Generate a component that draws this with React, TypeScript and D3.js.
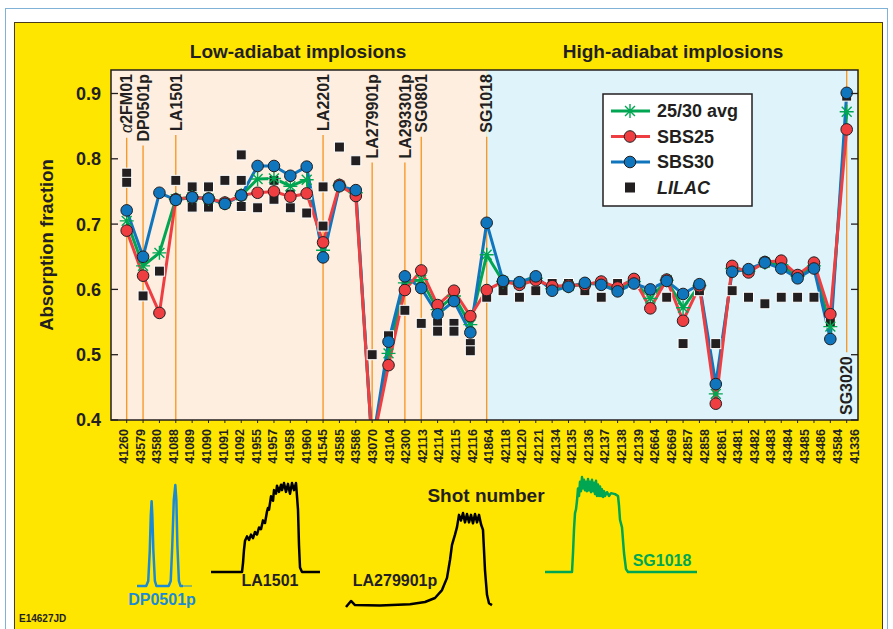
import * as d3 from "d3";
import React from "react";

// shots along the x axis
const shots = [
	"41260", "43579", "43580", "41088", "41089", "41090", "41091", "41092", "41955", "41957",
	"41958", "41960", "41545", "43585", "43586", "43070", "43104", "42300", "42113", "42114",
	"42115", "42116", "41864", "42118", "42120", "42121", "42134", "42135", "42136", "42137",
	"42138", "42139", "42664", "42669", "42857", "42858", "42861", "43481", "43482", "43483",
	"43484", "43485", "43486", "43584", "41336"
];

const sbs25 = [
	0.690, 0.621, 0.564, 0.738, 0.741, 0.739, 0.733, 0.744, 0.748, 0.750,
	0.742, 0.747, 0.672, 0.760, 0.743, 0.36, 0.484, 0.599, 0.629, 0.576,
	0.598, 0.559, 0.599, 0.612, 0.607, 0.614, 0.605, 0.606, 0.607, 0.612,
	0.603, 0.616, 0.571, 0.615, 0.552, 0.605, 0.425, 0.636, 0.626, 0.642,
	0.644, 0.622, 0.641, 0.562, 0.845
];

const sbs30 = [
	0.721, 0.650, 0.748, 0.737, 0.741, 0.739, 0.731, 0.744, 0.789, 0.789,
	0.774, 0.788, 0.649, 0.758, 0.752, 0.36, 0.520, 0.620, 0.602, 0.562,
	0.582, 0.534, 0.702, 0.613, 0.611, 0.620, 0.598, 0.604, 0.610, 0.607,
	0.597, 0.609, 0.600, 0.613, 0.593, 0.608, 0.455, 0.627, 0.631, 0.641,
	0.632, 0.617, 0.632, 0.524, 0.901
];

const avg2530 = [
	0.705, 0.636, 0.656, 0.738, 0.741, 0.739, 0.732, 0.744, 0.769, 0.770,
	0.758, 0.768, 0.660, 0.759, 0.748, 0.36, 0.502, 0.610, 0.615, 0.569,
	0.590, 0.546, 0.653, 0.612, 0.609, 0.617, 0.601, 0.605, 0.608, 0.610,
	0.600, 0.612, 0.586, 0.614, 0.572, 0.606, 0.440, 0.632, 0.628, 0.641,
	0.638, 0.620, 0.636, 0.543, 0.872
];

// LILAC predictions, some shots have more than one
const lilac = [
	[0.778, 0.764], [0.590], [0.628], [0.767], [0.757, 0.726], [0.757, 0.726], [0.767], [0.806, 0.767, 0.727], [0.748, 0.725], [0.767, 0.738],
	[0.746, 0.725], [0.746, 0.717], [0.757, 0.697], [0.818], [0.797], [0.500], [0.529], [0.568], [0.548], [0.548, 0.536],
	[0.548, 0.536], [0.517, 0.506], [0.588], [0.598], [0.588], [0.598], [0.609], [0.609], [0.598], [0.588],
	[0.609], [0.609], [0.598], [0.588], [0.517], [0.598], [0.517], [0.598], [0.588], [0.578],
	[0.588], [0.588], [0.588], [0.549], [0.896]
];

const yTicks = [0.4, 0.5, 0.6, 0.7, 0.8, 0.9];

const markers = [
	{ shot: "41260", label: "α2FM01" },
	{ shot: "43579", label: "DP0501p" },
	{ shot: "41088", label: "LA1501" },
	{ shot: "41545", label: "LA2201" },
	{ shot: "43070", label: "LA279901p" },
	{ shot: "42300", label: "LA293301p" },
	{ shot: "42113", label: "SG0801" },
	{ shot: "41864", label: "SG1018" }
];
const bottomMarker = { shot: "41336", label: "SG3020" };

// laser pulse shapes (time in ns-ish units, normalized power)
const pulseDP = [
	[0, 0], [9, 0], [11, 0.05], [12.5, 0.35], [13.5, 0.7], [14.3, 0.84], [15, 0.7], [16, 0.35], [17.5, 0.05], [19, 0],
	[31, 0], [33, 0.05], [34.5, 0.4], [36, 0.85], [37.5, 1], [38.5, 0.85], [39.5, 0.4], [41, 0.05], [42.5, 0], [45, 0]
];
const pulseLA1501 = [
	[0, 0], [31, 0], [32, 0.1], [33, 0.25], [34, 0.35], [36, 0.4], [38, 0.36], [40, 0.42], [42, 0.38], [44, 0.45],
	[46, 0.42], [48, 0.5], [50, 0.48], [52, 0.58], [54, 0.55], [56, 0.68], [57, 0.72], [58, 0.7], [60, 0.85], [62, 0.8],
	[63, 0.92], [65, 0.88], [66, 0.97], [68, 0.9], [70, 0.98], [71, 0.92], [73, 1.0], [75, 0.9], [77, 0.99], [79, 0.88],
	[81, 1.0], [83, 0.92], [85, 1.0], [86, 0.85], [87, 0.7], [88, 0.3], [89, 0.05], [91, 0], [109, 0]
];
const pulseLA2799 = [
	[0, 0], [5, 0.064], [9, 0.02], [34, 0.016], [64, 0.03], [79, 0.053], [89, 0.096], [96, 0.18], [101, 0.31], [104, 0.5],
	[106, 0.66], [109, 0.77], [111, 0.85], [113, 0.98], [115, 0.92], [117, 1.0], [119, 0.9], [121, 0.99], [123, 0.9], [125, 0.98],
	[127, 0.89], [129, 0.99], [131, 0.9], [133, 0.98], [135, 0.88], [137, 0.82], [139, 0.39], [141, 0.13], [143, 0.04], [146, 0.02]
];
const pulseSG1018 = [
	[0, 0], [27, 0], [28, 0.2], [29, 0.45], [30, 0.62], [31, 0.66], [32, 0.75], [33, 0.88], [34, 0.8], [35, 0.95],
	[36, 0.85], [37, 1.0], [38, 0.88], [39, 0.97], [40, 0.86], [41, 0.95], [42, 0.85], [43, 0.98], [44, 0.86], [45, 0.95],
	[46, 0.84], [47, 0.97], [48, 0.85], [49, 0.94], [50, 0.82], [51, 0.96], [52, 0.8], [53, 0.92], [54, 0.8], [55, 0.9],
	[56, 0.8], [57, 0.87], [58, 0.79], [59, 0.85], [60, 0.8], [62, 0.84], [64, 0.8], [66, 0.83], [70, 0.82], [73, 0.8],
	[74, 0.7], [75, 0.55], [77, 0.47], [79, 0.2], [81, 0.03], [83, 0], [152, 0]
];

const font = "'Liberation Sans', Arial, Helvetica, sans-serif";
const red = "#ef3e42";
const blue = "#0f75bc";
const green = "#00a651";
const orange = "#f7941d";
const ink = "#231f20";

const plot = { left: 111, right: 858, top: 70, bottom: 420 };

let measureCtx: CanvasRenderingContext2D | null = null;
const textWidth = (s: string, f: string) => {
	if (!measureCtx) measureCtx = document.createElement("canvas").getContext("2d");
	if (!measureCtx) return s.length * 9;
	measureCtx.font = f;
	return measureCtx.measureText(s).width;
};

const Star = ({ cx, cy, r, color }) => {
	const d = [0, 45, 90, 135].map(a => {
		const rad = (a * Math.PI) / 180;
		const dx = Math.cos(rad) * r, dy = Math.sin(rad) * r;
		return `M${cx - dx},${cy - dy}L${cx + dx},${cy + dy}`;
	}).join("");
	return <path d={d} stroke={color} strokeWidth={1.4} fill="none" />;
};

const Pulse = ({ data, x0, x1, yBase, yTop, color, width = 2.5 }) => {
	const tx = d3.scaleLinear().domain(d3.extent(data, d => d[0]) as [number, number]).range([x0, x1]);
	const py = d3.scaleLinear().domain([0, 1]).range([yBase, yTop]);
	const line = d3.line<number[]>().x(d => tx(d[0])).y(d => py(d[1]));
	return <path d={line(data) || ""} fill="none" stroke={color} strokeWidth={width} strokeLinejoin="round" />;
};

export default function App() {
	const x = d3.scalePoint().domain(shots).range([126.7, 846.7]);
	const labelX = d3.scalePoint().domain(shots).range([123.5, 854]);
	const y = d3.scaleLinear().domain([0.4, 0.9]).range([plot.bottom, 93.5]);

	const line = d3.line<number>().x((d, i) => x(shots[i]) as number).y(d => y(d));
	const split = x("41864") as number;

	const series = [
		{ name: "25/30 avg", values: avg2530, color: green },
		{ name: "SBS30", values: sbs30, color: blue },
		{ name: "SBS25", values: sbs25, color: red }
	];

	const labelFont = `bold 16px 'Liberation Sans', Arial`;

	return (
		<svg width={893} height={629} style={{ position: "absolute", left: 0, top: 0 }} fontFamily={font}>
			<rect x={0} y={0} width={893} height={629} fill="#fff" />
			<rect x={5.5} y={8.5} width={882} height={625} fill="none" stroke="#7fb2d6" strokeWidth={1} />
			<rect x={14.5} y={22.5} width={868} height={612} fill="#ffe600" stroke="#4a3b1a" strokeWidth={1} />

			<text x={298} y={58} textAnchor="middle" fontSize={19} fontWeight="bold" fill={ink}>Low-adiabat implosions</text>
			<text x={673} y={58} textAnchor="middle" fontSize={19} fontWeight="bold" fill={ink}>High-adiabat implosions</text>

			<defs>
				<clipPath id="plotClip">
					<rect x={plot.left} y={plot.top} width={plot.right - plot.left} height={plot.bottom - plot.top} />
				</clipPath>
			</defs>

			<rect x={plot.left} y={plot.top} width={split - plot.left} height={plot.bottom - plot.top} fill="#fdeee0" />
			<rect x={split} y={plot.top} width={plot.right - split} height={plot.bottom - plot.top} fill="#dff3fa" />

			{/* shot annotations */}
			{markers.map(m => {
				const xx = x(m.shot) as number;
				const len = textWidth(m.label, labelFont);
				return (
					<g key={m.label}>
						<line x1={xx} x2={xx} y1={74 + len + 4} y2={plot.bottom} stroke={orange} strokeWidth={1.3} />
						<text transform={`translate(${xx},74) rotate(-90)`} textAnchor="end" dy="0.36em" fontSize={16} fontWeight="bold" fill={ink}>
							{m.label.startsWith("α") ? <><tspan fontStyle="italic" fontWeight="normal">α</tspan>{m.label.slice(1)}</> : m.label}
						</text>
					</g>
				);
			})}
			{(() => {
				const xx = x(bottomMarker.shot) as number;
				const len = textWidth(bottomMarker.label, labelFont);
				return (
					<g>
						<line x1={xx} x2={xx} y1={plot.top} y2={415 - len - 4} stroke={orange} strokeWidth={1.3} />
						<text transform={`translate(${xx},415) rotate(-90)`} textAnchor="start" dy="0.36em" fontSize={16} fontWeight="bold" fill={ink}>
							{bottomMarker.label}
						</text>
					</g>
				);
			})()}

			{/* data */}
			<g clipPath="url(#plotClip)">
				{series.map(s => (
					<path key={s.name} d={line(s.values) || ""} fill="none" stroke={s.color} strokeWidth={3} strokeLinejoin="round" />
				))}
				{lilac.map((vals, i) => vals.map((v, j) => (
					<rect key={`${i}-${j}`} x={(x(shots[i]) as number) - 5} y={y(v) - 5} width={10} height={10} fill={ink} stroke="#fff" strokeWidth={1} />
				)))}
				{avg2530.map((v, i) => (
					<Star key={`s${i}`} cx={x(shots[i]) as number} cy={y(v)} r={7} color={green} />
				))}
				{sbs25.map((v, i) => (
					<circle key={`r${i}`} cx={x(shots[i]) as number} cy={y(v)} r={5.8} fill={red} stroke={ink} strokeWidth={1} />
				))}
				{sbs30.map((v, i) => (
					<circle key={`b${i}`} cx={x(shots[i]) as number} cy={y(v)} r={5.8} fill={blue} stroke={ink} strokeWidth={1} />
				))}
			</g>

			{/* frame and axes */}
			<rect x={plot.left} y={plot.top} width={plot.right - plot.left} height={plot.bottom - plot.top} fill="none" stroke={ink} strokeWidth={1.5} />
			{yTicks.map(t => (
				<g key={t}>
					<line x1={plot.left} x2={plot.left + 7} y1={y(t)} y2={y(t)} stroke={ink} strokeWidth={1.3} />
					<line x1={plot.right} x2={plot.right - 7} y1={y(t)} y2={y(t)} stroke={ink} strokeWidth={1.3} />
					<text x={101} y={y(t)} dy="0.36em" textAnchor="end" fontSize={18} fontWeight="bold" fill={ink}>{t.toFixed(1)}</text>
				</g>
			))}
			{shots.map(s => (
				<g key={s}>
					<line x1={x(s) as number} x2={x(s) as number} y1={plot.bottom} y2={plot.bottom + 3} stroke={ink} strokeWidth={1} />
					<text transform={`translate(${labelX(s)},429) rotate(-90)`} textAnchor="end" dy="0.36em" fontSize={12.5} fontWeight="bold" fill={ink}>{s}</text>
				</g>
			))}

			<text transform="translate(53,245) rotate(-90)" textAnchor="middle" fontSize={18.5} fontWeight="bold" fill={ink}>Absorption fraction</text>
			<text x={486} y={502} textAnchor="middle" fontSize={19} fontWeight="bold" fill={ink}>Shot number</text>

			{/* legend */}
			<rect x={603} y={94} width={149} height={112} fill="#fff" stroke={ink} strokeWidth={1.5} />
			{[
				{ name: "25/30 avg", color: green, kind: "star" },
				{ name: "SBS25", color: red, kind: "circle" },
				{ name: "SBS30", color: blue, kind: "circle" },
				{ name: "LILAC", color: ink, kind: "square" }
			].map((l, i) => {
				const ly = 111 + i * 25.5;
				return (
					<g key={l.name}>
						{l.kind !== "square" && <line x1={611} x2={650} y1={ly} y2={ly} stroke={l.color} strokeWidth={3} />}
						{l.kind === "star" && <Star cx={630} cy={ly} r={7} color={green} />}
						{l.kind === "circle" && <circle cx={630} cy={ly} r={5.8} fill={l.color} stroke={ink} strokeWidth={1} />}
						{l.kind === "square" && <rect x={625} y={ly - 5} width={10} height={10} fill={ink} />}
						<text x={657} y={ly} dy="0.36em" fontSize={18} fontWeight="bold" fontStyle={l.kind === "square" ? "italic" : "normal"} fill={ink}>{l.name}</text>
					</g>
				);
			})}

			{/* pulse shape insets */}
			<Pulse data={pulseDP} x0={137} x1={183} yBase={586} yTop={485} color="#1b8ad6" />
			<line x1={183} x2={192} y1={586} y2={586} stroke="#1b8ad6" strokeWidth={1} />
			<text x={162} y={605} textAnchor="middle" fontSize={16} fontWeight="bold" fill="#1b8ad6">DP0501p</text>

			<Pulse data={pulseLA1501} x0={211} x1={320} yBase={572} yTop={483} color="#000" />
			<text x={270} y={586} textAnchor="middle" fontSize={16} fontWeight="bold" fill={ink}>LA1501</text>

			<Pulse data={pulseLA2799} x0={346} x1={492} yBase={607} yTop={513} color="#000" />
			<text x={395} y={586} textAnchor="middle" fontSize={16} fontWeight="bold" fill={ink}>LA279901p</text>

			<Pulse data={pulseSG1018} x0={545} x1={697} yBase={572} yTop={477} color={green} />
			<text x={662} y={566} textAnchor="middle" fontSize={16} fontWeight="bold" fill={green}>SG1018</text>

			<text x={19} y={622} fontSize={10} fontWeight="bold" fill={ink}>E14627JD</text>
		</svg>
	);
}
